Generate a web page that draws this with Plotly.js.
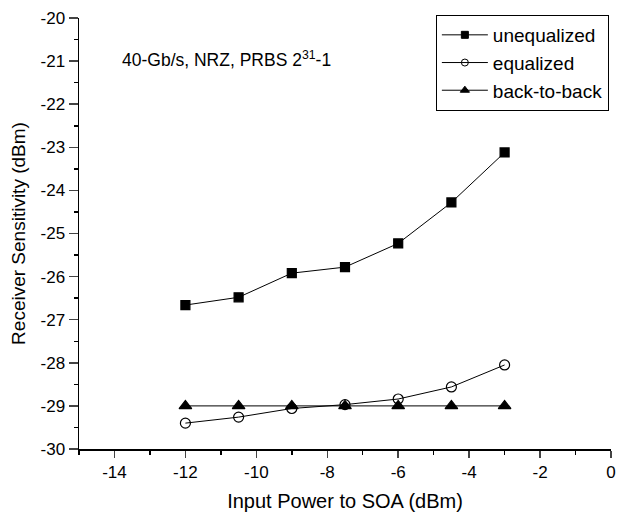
<!DOCTYPE html>
<html><head><meta charset="utf-8">
<script src="https://cdn.plot.ly/plotly-3.0.1.min.js"></script>
<style>body{margin:0;background:#fff}#c{width:618px;height:512px}</style>
</head><body><div id="c"></div>
<script>
const inputPower = [-12, -10.5, -9, -7.5, -6, -4.5, -3];
const unequalized = [-26.66, -26.48, -25.92, -25.78, -25.23, -24.28, -23.12];
const equalized = [-29.40, -29.26, -29.06, -28.97, -28.84, -28.56, -28.05];
const backToBack = [-29.0, -29.0, -29.0, -29.0, -29.0, -29.0, -29.0];
const seriesNames = ['unequalized', 'equalized', 'back-to-back'];
const xTickVals = [-14, -12, -10, -8, -6, -4, -2, 0];
const xTickText = ['-14', '-12', '-10', '-8', '-6', '-4', '-2', '0'];
const yTickVals = [-30, -29, -28, -27, -26, -25, -24, -23, -22, -21, -20];
const yTickText = ['-30', '-29', '-28', '-27', '-26', '-25', '-24', '-23', '-22', '-21', '-20'];

const font = {family: 'Liberation Sans, Arial, sans-serif', color: '#000'};
const line = {color: '#000', width: 1};
const symbols = ['square', 'circle-open', 'triangle-up'];
const sizes = [9, 10, 11];
const legendSizes = [7, 7, 8];
const data = [unequalized, equalized, backToBack];
const traces = [];
data.forEach((ys, i) => {
  traces.push({x: inputPower, y: ys, name: seriesNames[i], mode: 'lines+markers', line: line,
    showlegend: false,
    marker: {symbol: symbols[i], size: sizes[i], color: '#000', line: {width: 1.2, color: '#000'}}});
});
data.forEach((ys, i) => {
  traces.push({x: [null], y: [null], name: seriesNames[i], mode: 'lines+markers', line: line,
    marker: {symbol: symbols[i], size: legendSizes[i], color: '#000', line: {width: 1, color: '#000'}}});
});
const layout = {
  width: 618, height: 512,
  margin: {l: 79, r: 7, t: 18, b: 63},
  paper_bgcolor: '#fff', plot_bgcolor: '#fff',
  font: Object.assign({size: 17}, font),
  showlegend: true,
  legend: {x: 0.996, xanchor: 'right', y: 1.007, yanchor: 'top', bordercolor: '#000', borderwidth: 1,
    bgcolor: '#fff', font: Object.assign({size: 19}, font), tracegroupgap: 0, itemwidth: 46},
  xaxis: {range: [-15, 0], tickvals: xTickVals, ticktext: xTickText, ticks: 'outside', ticklen: 7, tickwidth: 1.5,
    showline: true, linewidth: 1.5, linecolor: '#000', showgrid: false, zeroline: false,
    minor: {dtick: 1, ticks: 'outside', ticklen: 4, tickwidth: 1.5, tickcolor: '#000', showgrid: false},
    tickfont: Object.assign({size: 17}, font),
    title: {text: 'Input Power to SOA (dBm)', font: Object.assign({size: 20}, font), standoff: 14}},
  yaxis: {range: [-30, -20], tickvals: yTickVals, ticktext: yTickText, ticks: 'outside', ticklen: 9, tickwidth: 1.5,
    showline: true, linewidth: 1.5, linecolor: '#000', showgrid: false, zeroline: false,
    minor: {dtick: 0.5, ticks: 'outside', ticklen: 4, tickwidth: 1.5, tickcolor: '#000', showgrid: false},
    tickfont: Object.assign({size: 17}, font),
    title: {text: 'Receiver Sensitivity (dBm)', font: Object.assign({size: 19}, font), standoff: 10}},
  annotations: [{xref: 'paper', yref: 'paper', x: 0.077, y: 0.905, xanchor: 'left', yanchor: 'middle',
    text: '40-Gb/s, NRZ, PRBS 2<sup>31</sup>-1', showarrow: false, font: Object.assign({size: 17.5}, font)}]
};
Plotly.newPlot('c', traces, layout, {staticPlot: true});
</script></body></html>
